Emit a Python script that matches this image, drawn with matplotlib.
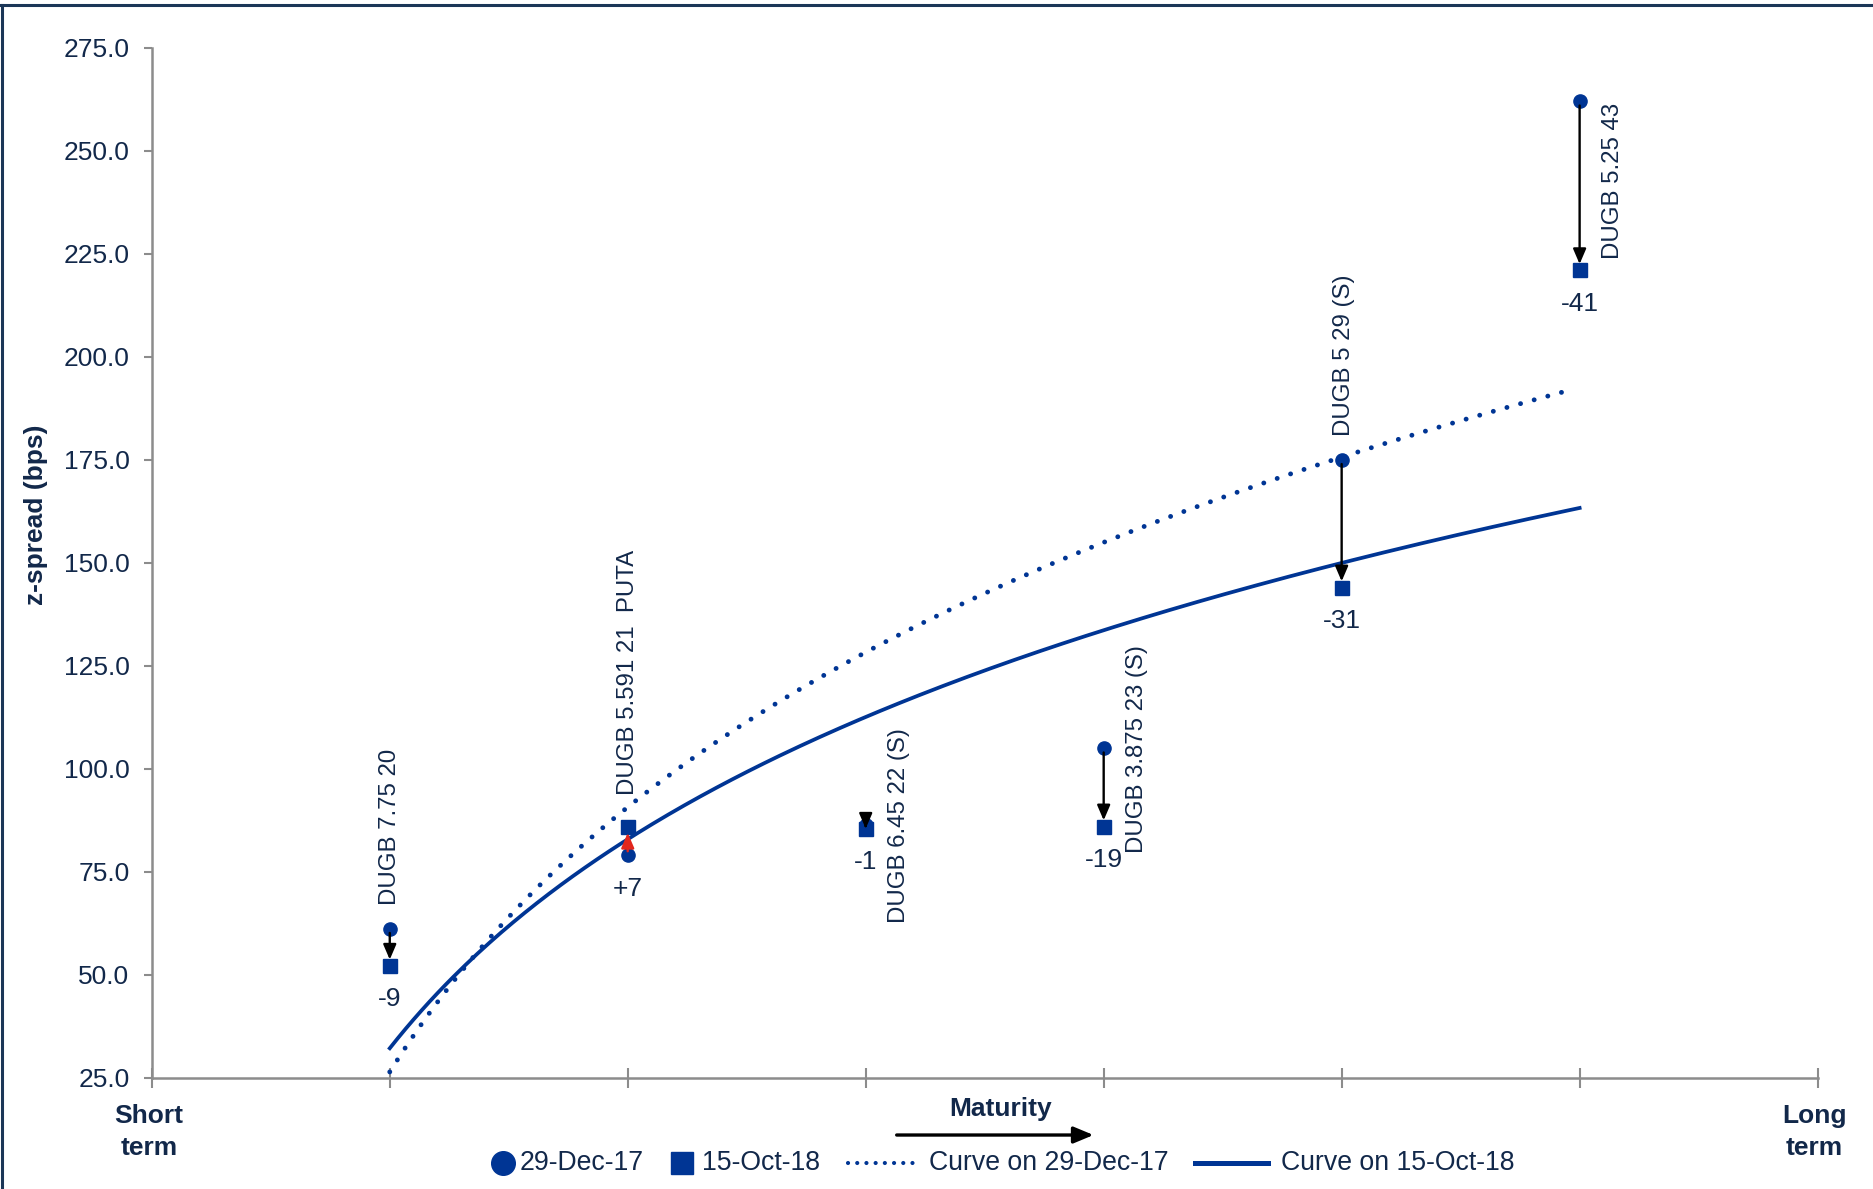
import numpy as np
import matplotlib
matplotlib.use("Agg")
import matplotlib.pyplot as plt
from matplotlib.lines import Line2D
from matplotlib.offsetbox import DrawingArea, TextArea, HPacker, AnchoredOffsetbox

plt.rcParams['font.family'] = ['Liberation Sans', 'DejaVu Sans']

# bonds ordered by maturity, short to long
bonds = ["DUGB 7.75 20", "DUGB 5.591 21  PUTA", "DUGB 6.45 22 (S)",
         "DUGB 3.875 23 (S)", "DUGB 5 29 (S)", "DUGB 5.25 43"]
spread_dec17 = [61.2, 79.0, 86.5, 105.0, 175.0, 262.0]
spread_oct18 = [52.2, 86.0, 85.5, 86.0, 144.0, 221.0]
yticks = [25, 50, 75, 100, 125, 150, 175, 200, 225, 250, 275]

# where each bond name sits (x, y of the lower end of the rotated text)
name_pos = [(1.0, 67.0), (2.0, 93.7), (3.14, 62.7),
            (4.14, 79.5), (5.01, 180.7), (6.14, 223.7)]

TXT = '#12284a'
BLUE = '#003594'
RED = '#e2261c'
GREY = '#8c8c8c'

x = np.arange(1, len(bonds) + 1)
y0 = np.array(spread_dec17)
y1 = np.array(spread_oct18)

fig = plt.figure(figsize=(18.74, 11.89), dpi=100)
ax = fig.add_axes([0.081, 0.0934, 0.8889, 0.8664])

# logarithmic trend lines through each set of points
xs = np.linspace(1, 5.97, 300)
b0, a0 = np.polyfit(np.log(x), y0, 1)
b1, a1 = np.polyfit(np.log(x), y1, 1)
ax.plot(xs, a0 + b0 * np.log(xs), color=BLUE, lw=3.5,
        linestyle=(0, (0.01, 2.9)), dash_capstyle='round', zorder=2)
xs = np.linspace(1, 6, 300)
ax.plot(xs, a1 + b1 * np.log(xs), color=BLUE, lw=2.7, zorder=2)

ax.plot(x, y0, 'o', color=BLUE, ms=9.5, zorder=3)
ax.plot(x, y1, 's', color=BLUE, ms=10, zorder=3)

for i in range(len(bonds)):
    d = int(round(y1[i] - y0[i]))
    col = RED if d > 0 else 'black'
    ax.annotate('', xy=(x[i], y1[i]), xytext=(x[i], y0[i]),
                arrowprops=dict(arrowstyle='-|>,head_length=0.7,head_width=0.3',
                                mutation_scale=13, color=col, lw=1.7, shrinkA=3,
                                shrinkB=0 if abs(d) < 3 else 4.5),
                zorder=4)
    lab = f"+{d}" if d > 0 else f"{d}"
    ax.annotate(lab, xy=(x[i], min(y0[i], y1[i])), xytext=(0, -24),
                textcoords='offset points', ha='center', va='center',
                fontsize=19, color=TXT)
    nx, ny = name_pos[i]
    ax.text(nx, ny, bonds[i], rotation=90, ha='center', va='bottom',
            fontsize=17.3, color=TXT)

ax.set_xlim(0, 7)
ax.set_ylim(25, 275)
ax.set_xticks(range(8))
ax.set_xticklabels([])
ax.set_yticks(yticks)
ax.set_yticklabels([f"{v:.1f}" for v in yticks])
ax.tick_params(axis='y', direction='out', length=6, width=1.5, color=GREY,
               labelsize=19, labelcolor=TXT, pad=10)
ax.tick_params(axis='x', direction='inout', length=15, width=1.5, color=GREY)
for s in ['top', 'right']:
    ax.spines[s].set_visible(False)
for s in ['left', 'bottom']:
    ax.spines[s].set_color(GREY)
    ax.spines[s].set_linewidth(1.8)

ax.set_ylabel("z-spread (bps)", fontsize=19, fontweight='bold', color=TXT)
ax.yaxis.set_label_coords(-0.0624, 0.547)

# maturity direction under the x axis
fig.text(0.0795, 0.048, "Short\nterm", ha='center', va='center',
         fontsize=19, fontweight='bold', color=TXT, linespacing=1.4)
fig.text(0.968, 0.048, "Long\nterm", ha='center', va='center',
         fontsize=19, fontweight='bold', color=TXT, linespacing=1.4)
fig.text(0.534, 0.0673, "Maturity", ha='center', va='center',
         fontsize=19, fontweight='bold', color=TXT)
fig.patches.append(matplotlib.patches.FancyArrowPatch(
    (0.477, 0.0454), (0.585, 0.0454), transform=fig.transFigure,
    arrowstyle='-|>,head_length=0.6,head_width=0.25', color='black', lw=2.4,
    mutation_scale=20))

# legend row: markers take less room than line samples
def entry(handle_w, artist, label, gap):
    da = DrawingArea(handle_w, 14, 0, 0)
    da.add_artist(artist)
    ta = TextArea(label, textprops=dict(fontsize=19.2, color=TXT))
    return HPacker(children=[da, ta], pad=0, sep=gap, align='center')

items = [
    entry(17, Line2D([8.5], [7], marker='o', ms=17, color=BLUE, ls='none'), "29-Dec-17", 4),
    entry(16, Line2D([8], [7], marker='s', ms=15.5, color=BLUE, ls='none'), "15-Oct-18", 7),
    entry(49, Line2D([1, 48], [7, 7], color=BLUE, lw=3.0,
                     linestyle=(0, (0.01, 2.2)), dash_capstyle='round'), "Curve on 29-Dec-17", 10),
    entry(53, Line2D([0, 53], [7, 7], color=BLUE, lw=3.6), "Curve on 15-Oct-18", 9),
]
row = HPacker(children=items, pad=0, sep=19, align='center')
leg = AnchoredOffsetbox(loc='center', child=row, pad=0, frameon=False,
                        bbox_to_anchor=(0.535, 0.0219),
                        bbox_transform=fig.transFigure, borderpad=0)
fig.add_artist(leg)

# frame lines along the top and left edge
fig.add_artist(Line2D([0, 1], [0.9955, 0.9955], transform=fig.transFigure,
                      color='#1b3657', lw=2.2))
fig.add_artist(Line2D([0.0012, 0.0012], [0, 0.9955], transform=fig.transFigure,
                      color='#1b3657', lw=2.2))

fig.savefig("out.png", dpi=100)
